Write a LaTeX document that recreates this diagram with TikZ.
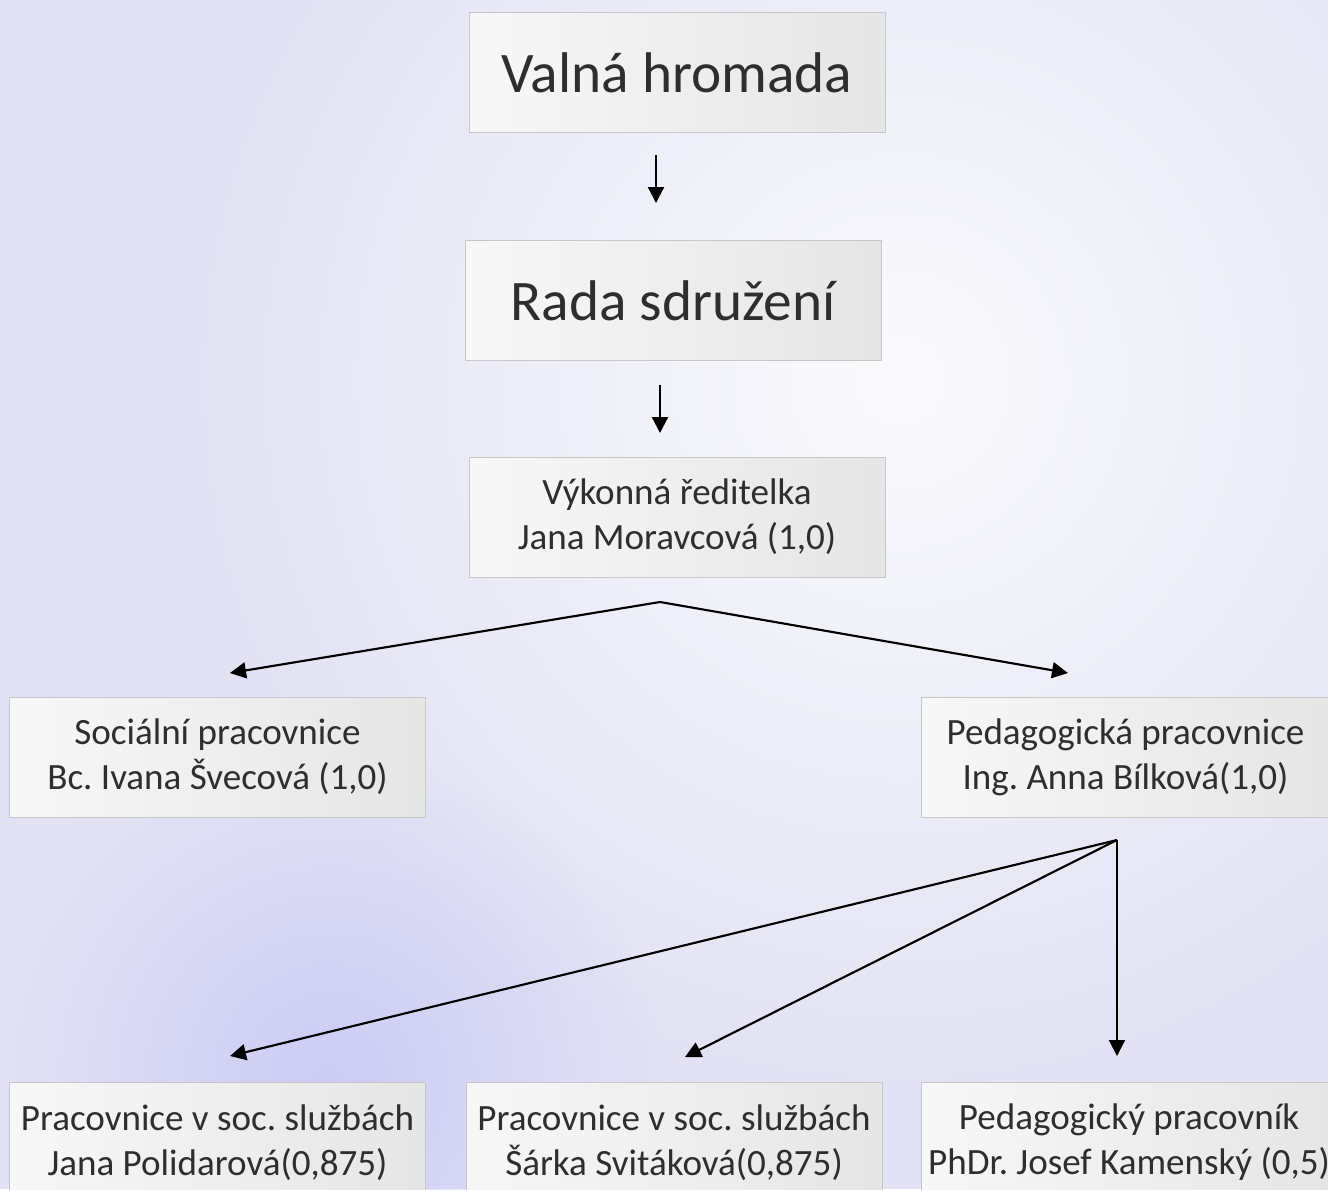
\documentclass[tikz,border=0pt]{standalone}
\usepackage{fontspec}
\setmainfont{Carlito}
\frenchspacing
\usetikzlibrary{arrows.meta,fadings}
\tikzfading[name=blobfade,inner color=transparent!0,outer color=transparent!100]

\begin{document}
\begin{tikzpicture}[x=0.75pt,y=-0.75pt]
				\tikzstyle{box}=[draw=black!22,line width=0.6pt,left color=white!97!black,right color=black!10,text=black!82,align=center,minimum width=312pt,minimum height=90pt,inner sep=0pt]
				\tikzstyle{bigbox}=[box,font=\fontsize{43}{50}\selectfont]
				\tikzstyle{smallbox}=[box,font=\fontsize{27.8}{34}\selectfont]
				\tikzstyle{arr}=[line width=1.6pt,-{Triangle[width=12pt,length=12pt]}]
				% pozadi
				\useasboundingbox (0,0) rectangle (1328,1189);
				\fill[color={rgb,255:red,226;green,226;blue,244}] (0,0) rectangle (1328,1189);
				\fill[white,path fading=blobfade,opacity=.85] (900,380) circle (720);
				\fill[color={rgb,255:red,204;green,204;blue,246},path fading=blobfade] (330,1080) circle (330);
				% uzly
				\node[bigbox] (valna) at (677,72.5) {Valná hromada};
				\node[bigbox] (rada) at (673,300.5) {Rada sdružení};
				\node[smallbox] (reditelka) at (677,517) {Výkonná ředitelka\\Jana Moravcová (1,0)};
				\node[smallbox] (socialni) at (217.5,757) {Sociální pracovnice\\Bc. Ivana Švecová (1,0)};
				\node[smallbox,minimum width=306.75pt] (pedagog) at (1125.5,757) {Pedagogická pracovnice\\Ing. Anna Bílková(1,0)};
				\node[smallbox,anchor=north] (polidarova) at (217.5,1082) {Pracovnice v soc. službách\\Jana Polidarová(0,875)};
				\node[smallbox,anchor=north] (svitakova) at (674,1082) {Pracovnice v soc. službách\\Šárka Svitáková(0,875)};
				\node[smallbox,anchor=north] (kamensky) at (1129,1082) {Pedagogický pracovník\\PhDr. Josef Kamenský (0,5)};
				% sipky
				\coordinate (a1s) at (656,155);
				\coordinate (a1e) at (656,203);
				\coordinate (a2s) at (660,385);
				\coordinate (a2e) at (660,433);
				\coordinate (b1) at (660,602);
				\coordinate (b1l) at (230,673);
				\coordinate (b1r) at (1068,673);
				\coordinate (b2) at (1117,840);
				\coordinate (b2l) at (230,1056);
				\coordinate (b2m) at (685,1057);
				\coordinate (b2r) at (1117,1056);
				\draw[arr] (a1s) -- (a1e);
				\draw[arr] (a2s) -- (a2e);
				\draw[arr] (b1) -- (b1l);
				\draw[arr] (b1) -- (b1r);
				\draw[arr] (b2) -- (b2l);
				\draw[arr] (b2) -- (b2m);
				\draw[arr] (b2) -- (b2r);
\end{tikzpicture}
\end{document}
